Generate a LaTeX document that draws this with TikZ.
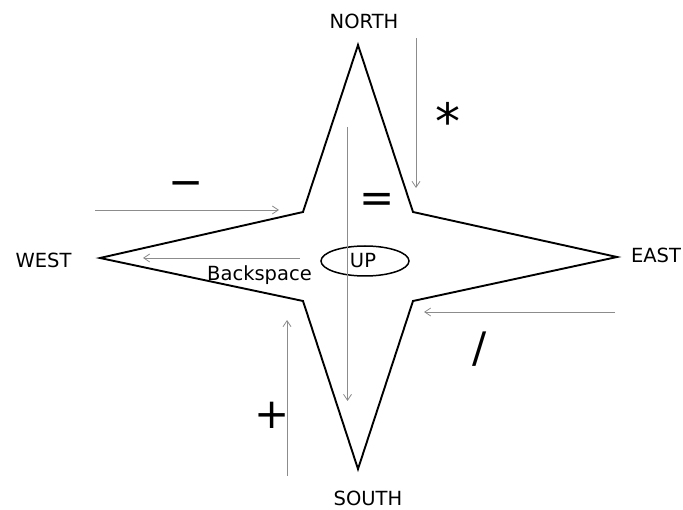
\documentclass[tikz,border=0pt]{standalone}
\usepackage{fontspec}
\newfontfamily\compassfont{DejaVu Sans}
\usetikzlibrary{arrows.meta,positioning,calc,shapes.geometric}

\begin{document}
\begin{tikzpicture}[
  x=1pt,
  y=-1pt,
  font=\compassfont\fontsize{19.5}{22}\selectfont,
  >={Straight Barb[length=6pt,width=8pt]},
  star/.style={draw=black, line width=1.9pt, line join=miter},
  key/.style={->, line width=0.8pt, draw=black!45},
  label/.style={inner sep=0pt, anchor=base},
  sym/.style={inner sep=0pt, font=\compassfont\fontsize{42}{44}\selectfont}
]

\fill[white] (0,0) rectangle (683,510);
\useasboundingbox (0,0) rectangle (683,510);

% star outline
\coordinate (top) at (358,45);
\coordinate (ne) at (413,212);
\coordinate (tipE) at (617,257);
\coordinate (se) at (413,301);
\coordinate (bottom) at (358,469);
\coordinate (sw) at (303,301);
\coordinate (tipW) at (100,258);
\coordinate (nw) at (303,212);
\draw[star] (top) -- (ne) -- (tipE) -- (se) -- (bottom) -- (sw) -- (tipW) -- (nw) -- cycle;

\node[label] (north) at (364,29) {NORTH};
\node[label] (south) at (368,505) {SOUTH};
\node[label] (west) at (43.5,268) {WEST};
\node[label] (east) at (656,263) {EAST};

\node[draw, line width=1.5pt, ellipse, minimum width=88pt, minimum height=30pt,
  inner sep=0pt] (up) at (365,261) {};
\node[label] (uptext) at (363,268) {UP};
\node[label] (bksp) at (259.5,281) {Backspace};

% key strokes
\coordinate (mulA) at (416,38);   \coordinate (mulB) at (416,188);
\coordinate (subA) at (95,210);   \coordinate (subB) at (279,210);
\coordinate (bkA) at (300,258);   \coordinate (bkB) at (143,258);
\coordinate (eqA) at (347.5,127); \coordinate (eqB) at (347.5,401);
\coordinate (divA) at (615,312);  \coordinate (divB) at (424,312);
\coordinate (addA) at (287,476);  \coordinate (addB) at (287,320);
\draw[key] (mulA) -- (mulB);
\draw[key] (subA) -- (subB);
\draw[key] (bkA) -- (bkB);
\draw[key] (eqA) -- (eqB);
\draw[key] (divA) -- (divB);
\draw[key] (addA) -- (addB);

\node[sym, font=\compassfont\fontsize{50}{52}\selectfont] (mul) at (448,121) {*};
\node[sym] (sub) at (186,189) {−};
\node[sym] (eq) at (377,203) {=};
\node[sym] (div) at (480,349) {/};
\node[sym] (add) at (272,415) {+};

\end{tikzpicture}
\end{document}
